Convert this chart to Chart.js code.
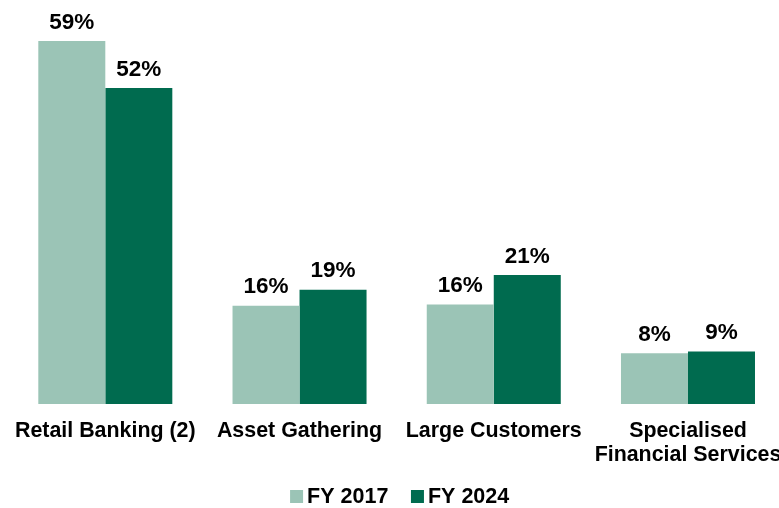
<!DOCTYPE html>
<html>
<head>
<meta charset="utf-8">
<script src="https://cdn.jsdelivr.net/npm/chart.js@4"></script>
<style>
  html, body { margin: 0; padding: 0; background: #fff; overflow: hidden; }
</style>
</head>
<body>
<canvas id="chart" width="786" height="508"></canvas>
<script>
// data
const categories = ['Retail Banking (2)', 'Asset Gathering', 'Large Customers', ['Specialised', 'Financial Services']];
const fy2017 = [59.4, 16.1, 16.3, 8.3];
const fy2024 = [51.7, 18.7, 21.1, 8.6];
const seriesNames = ['FY 2017', 'FY 2024'];
const seriesColors = ['#9bc4b6', '#006b4f'];

const FONT = '"Liberation Sans", Arial, sans-serif';

// value labels above each bar
const barLabels = {
    id: 'barLabels',
    afterDatasetsDraw(chart) {
        const ctx = chart.ctx;
        ctx.save();
        ctx.font = 'bold 22.5px ' + FONT;
        ctx.fillStyle = '#000';
        ctx.textAlign = 'center';
        ctx.textBaseline = 'alphabetic';
        chart.data.datasets.forEach((ds, i) => {
            chart.getDatasetMeta(i).data.forEach((bar, j) => {
                ctx.fillText(Math.round(ds.data[j]) + '%', bar.x, bar.y - 12.5);
            });
        });
        ctx.restore();
    }
};

// legend drawn by hand: square, small gap, text
const bottomLegend = {
    id: 'bottomLegend',
    afterDraw(chart) {
        const ctx = chart.ctx;
        ctx.save();
        ctx.font = 'bold 21.5px ' + FONT;
        ctx.textBaseline = 'alphabetic';
        const box = 13, gap = 4, spacing = 22.6;
        const widths = chart.data.datasets.map(ds => ctx.measureText(ds.label).width);
        const total = widths.reduce((a, w) => a + box + gap + w, 0) + spacing * (widths.length - 1);
        let x = (chart.chartArea.left + chart.chartArea.right) / 2 + 3 - total / 2;
        const base = 502.5;
        chart.data.datasets.forEach((ds, i) => {
            ctx.fillStyle = ds.backgroundColor;
            ctx.fillRect(x, base - 12.5, box, box);
            ctx.fillStyle = '#000';
            ctx.fillText(ds.label, x + box + gap, base);
            x += box + gap + widths[i] + spacing;
        });
        ctx.restore();
    }
};

new Chart(document.getElementById('chart'), {
    type: 'bar',
    data: {
        labels: categories,
        datasets: [
            { label: seriesNames[0], data: fy2017, backgroundColor: seriesColors[0], borderWidth: 0 },
            { label: seriesNames[1], data: fy2024, backgroundColor: seriesColors[1], borderWidth: 0 }
        ]
    },
    options: {
        responsive: false,
        animation: false,
        layout: { padding: { top: 6.85, left: 8.2, right: 0.9, bottom: 44 } },
        datasets: { bar: { barPercentage: 1, categoryPercentage: 0.69 } },
        plugins: {
            legend: { display: false },
            tooltip: { enabled: false }
        },
        scales: {
            x: {
                // invisible tick marks push the labels down without adding side padding
                grid: { display: false, drawTicks: true, tickLength: 15.5 },
                border: { display: false },
                ticks: {
                    color: '#000',
                    font: { family: FONT, size: 21.4, weight: 'bold', lineHeight: 1.1 },
                    padding: 0,
                    maxRotation: 0,
                    autoSkip: false
                },
                afterFit: (s) => { s.height = 60; }
            },
            y: { display: false, min: 0, max: 65 }
        }
    },
    plugins: [barLabels, bottomLegend]
});
</script>
</body>
</html>
